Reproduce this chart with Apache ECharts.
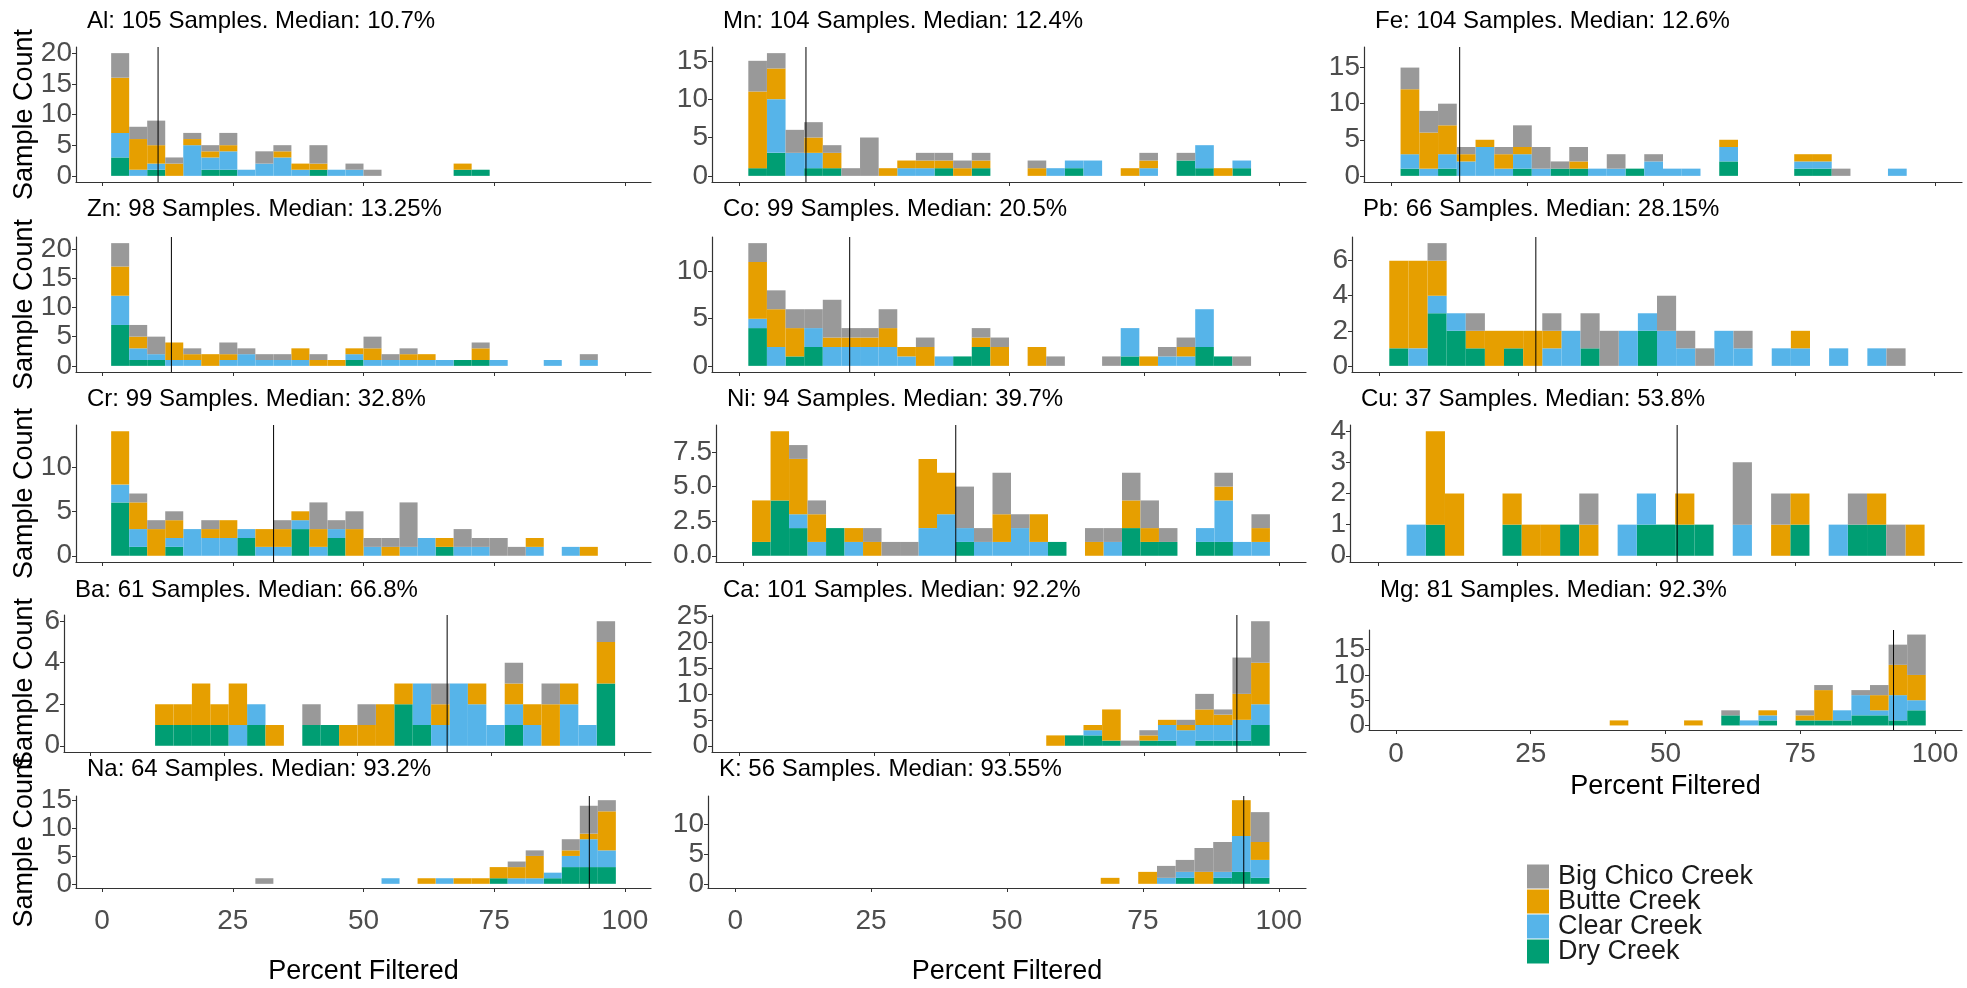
<!DOCTYPE html>
<html><head><meta charset="utf-8">
<script src="https://cdn.jsdelivr.net/npm/echarts@6/dist/echarts.min.js"></script>
<style>html,body{margin:0;padding:0;background:#fff}#c{width:1967px;height:988px}</style>
</head><body><div id="c"></div>
<script>
// Histogram bins: 29 bins over 0..100 (width 100/29), bins k=1..28 are drawn (index k-1)
const binWidth = 100 / 29;
const creeks = ['Big Chico Creek', 'Butte Creek', 'Clear Creek', 'Dry Creek'];
const xTicks = [0, 25, 50, 75, 100];

const elementNames = ['Al','Mn','Fe','Zn','Co','Pb','Cr','Ni','Cu','Ba','Ca','Mg','Na','K'];
const sampleCounts = [105,104,104,98,99,66,99,94,37,61,101,81,64,56];
const medianLabels = ['10.7','12.4','12.6','13.25','20.5','28.15','32.8','39.7','53.8','66.8','92.2','92.3','93.2','93.55'];
const medianValues = [10.7,12.4,12.6,13.25,20.5,28.15,32.8,39.7,53.8,66.8,92.2,92.3,93.2,93.55];
const yTopCounts = [20,16,17,21,13,7,14,9,4,6,24,18,15,14];
const yTickSets = [[0,5,10,15,20],[0,5,10,15],[0,5,10,15],[0,5,10,15,20],[0,5,10],[0,2,4,6],[0,5,10],[0,2.5,5,7.5],[0,1,2,3,4],[0,2,4,6],[0,5,10,15,20,25],[0,5,10,15],[0,5,10,15],[0,5,10]];

// counts per bin (k = 1..28); grey = Big Chico, orange = Butte, blue = Clear, green = Dry
const Al_grey   = [4,2,4,1,1,1,2,0,2,1, 0,3,0,1,1,0,0,0,0,0, 0,0,0,0,0,0,0,0];
const Al_orange = [9,5,3,2,1,1,1,0,0,1, 1,1,0,0,0,0,0,0,0,1, 0,0,0,0,0,0,0,0];
const Al_blue   = [4,1,1,0,5,2,3,1,2,3, 1,0,1,1,0,0,0,0,0,0, 0,0,0,0,0,0,0,0];
const Al_green  = [3,0,1,0,0,1,1,0,0,0, 0,1,0,0,0,0,0,0,0,1, 1,0,0,0,0,0,0,0];

const Mn_grey   = [4,2,3,2,1,1,5,0,0,1, 1,1,1,0,0,1,0,0,0,0, 0,1,0,1,0,0,0,0];
const Mn_orange = [10,4,0,2,2,0,0,1,1,1, 1,1,1,0,0,1,0,0,0,0, 1,1,0,0,0,1,0,0];
const Mn_blue   = [0,7,3,2,0,0,0,0,1,1, 0,0,0,0,0,0,1,1,2,0, 0,1,0,0,3,0,1,0];
const Mn_green  = [1,3,0,1,1,0,0,0,0,0, 1,0,1,0,0,0,0,1,0,0, 0,0,0,2,1,0,1,0];

const Fe_grey   = [3,3,3,1,0,1,3,3,1,2, 0,2,0,1,0,0,0,0,0,0, 0,0,0,1,0,0,0,0];
const Fe_orange = [9,5,4,1,1,2,1,0,0,1, 0,0,0,0,0,0,0,1,0,0, 0,1,1,0,0,0,0,0];
const Fe_blue   = [2,1,2,2,4,1,2,1,0,0, 1,1,0,2,1,1,0,2,0,0, 0,1,1,0,0,0,1,0];
const Fe_green  = [1,0,1,0,0,0,1,0,1,1, 0,0,1,0,0,0,0,2,0,0, 0,1,1,0,0,0,0,0];

const Zn_grey   = [4,2,3,0,1,0,2,1,1,1, 0,1,0,0,2,1,1,0,0,0, 1,0,0,0,0,0,1,0];
const Zn_orange = [5,2,0,3,1,2,1,0,0,0, 2,1,1,1,2,0,1,1,0,0, 2,0,0,0,0,0,0,0];
const Zn_blue   = [5,2,1,1,1,0,1,2,1,1, 1,0,0,1,1,1,1,1,1,0, 0,1,0,0,1,0,1,0];
const Zn_green  = [7,1,1,0,0,0,0,0,0,0, 0,0,0,1,0,0,0,0,0,1, 1,0,0,0,0,0,0,0];

const Co_grey   = [2,2,2,2,4,1,1,2,0,1, 0,0,1,1,0,0,1,0,0,1, 0,0,1,1,0,0,1,0];
const Co_orange = [6,4,3,0,1,1,1,2,1,2, 0,0,1,2,0,2,0,0,0,0, 0,1,0,1,0,0,0,0];
const Co_blue   = [1,2,0,2,2,2,2,2,1,0, 1,0,0,0,0,0,0,0,0,0, 3,0,1,1,4,0,0,0];
const Co_green  = [4,0,1,2,0,0,0,0,0,0, 0,1,2,0,0,0,0,0,0,0, 1,0,0,0,2,1,0,0];

const Pb_grey   = [0,0,1,0,1,0,0,0,1,0, 2,2,0,0,2,1,1,0,1,0, 0,0,0,0,0,0,1,0];
const Pb_orange = [5,5,2,0,1,2,1,2,1,0, 0,0,0,0,0,0,0,0,0,0, 0,1,0,0,0,0,0,0];
const Pb_blue   = [0,1,1,1,0,0,0,0,1,2, 0,0,2,1,2,1,0,2,1,0, 1,1,0,1,0,1,0,0];
const Pb_green  = [1,0,3,2,1,0,1,0,0,0, 1,0,0,2,0,0,0,0,0,0, 0,0,0,0,0,0,0,0];

const Cr_grey   = [0,1,1,1,0,1,0,0,0,1, 0,3,1,2,1,1,5,0,0,2, 1,2,1,0,0,0,0,0];
const Cr_orange = [6,3,3,2,0,1,2,0,2,2, 1,2,0,3,0,1,0,0,1,0, 0,0,0,1,0,0,1,0];
const Cr_blue   = [2,2,0,1,3,2,2,1,1,1, 1,1,1,0,1,0,1,2,0,1, 1,0,0,1,0,1,0,0];
const Cr_green  = [6,1,0,1,0,0,0,2,0,0, 3,0,2,0,0,0,0,0,1,0, 0,0,0,0,0,0,0,0];

const Ni_grey   = [0,0,1,1,0,0,1,1,1,0, 0,3,1,3,1,0,0,0,1,1, 2,2,1,0,0,1,0,1];
const Ni_orange = [3,5,4,2,0,1,1,0,0,5, 3,0,0,2,0,2,0,0,1,0, 2,1,0,0,0,1,0,1];
const Ni_blue   = [0,0,1,1,0,1,0,0,0,2, 3,1,1,1,2,1,0,0,0,1, 0,0,0,0,1,3,1,1];
const Ni_green  = [1,4,2,0,2,0,0,0,0,0, 0,1,0,0,0,0,1,0,0,0, 2,1,1,0,1,1,0,0];

const Cu_grey   = [0,0,0,0,0,0,0,0,0,0, 1,0,0,0,0,0,0,0,2,0, 1,0,0,0,1,0,1,0];
const Cu_orange = [0,0,3,2,0,0,1,1,1,0, 1,0,0,0,0,1,0,0,0,0, 1,1,0,0,0,1,0,1];
const Cu_blue   = [0,1,0,0,0,0,0,0,0,0, 0,0,1,1,0,0,0,0,1,0, 0,0,0,1,0,0,0,0];
const Cu_green  = [0,0,1,0,0,0,1,0,0,1, 0,0,0,1,1,1,1,0,0,0, 0,1,0,0,1,1,0,0];

const Ba_grey   = [0,0,0,0,0,0,0,0,0,0, 0,1,0,0,1,0,0,0,1,0, 0,0,1,0,1,0,0,1];
const Ba_orange = [0,0,0,1,1,2,1,2,0,1, 0,0,0,1,1,2,1,0,1,0, 1,0,1,1,2,1,0,2];
const Ba_blue   = [0,0,0,0,0,0,0,1,1,0, 0,0,0,0,0,0,0,2,1,3, 2,1,1,1,0,2,1,0];
const Ba_green  = [0,0,0,1,1,1,1,0,1,0, 0,1,1,0,0,0,2,1,0,0, 0,0,1,0,0,0,0,3];

const Ca_grey   = [0,0,0,0,0,0,0,0,0,0, 0,0,0,0,0,0,0,0,0,0, 1,1,0,1,3,1,7,8];
const Ca_orange = [0,0,0,0,0,0,0,0,0,0, 0,0,0,0,0,0,2,0,1,6, 0,1,1,1,3,2,5,8];
const Ca_blue   = [0,0,0,0,0,0,0,0,0,0, 0,0,0,0,0,0,0,0,1,0, 0,0,3,3,3,3,4,4];
const Ca_green  = [0,0,0,0,0,0,0,0,0,0, 0,0,0,0,0,0,0,2,2,1, 0,1,1,0,1,1,1,4];

const Mg_grey   = [0,0,0,0,0,0,0,0,0,0, 0,0,0,0,0,0,0,1,0,0, 0,1,1,0,1,2,4,8];
const Mg_orange = [0,0,0,0,0,0,0,0,0,0, 0,1,0,0,0,1,0,0,0,1, 0,1,6,0,0,3,6,5];
const Mg_blue   = [0,0,0,0,0,0,0,0,0,0, 0,0,0,0,0,0,0,0,1,1, 0,0,0,2,4,1,5,2];
const Mg_green  = [0,0,0,0,0,0,0,0,0,0, 0,0,0,0,0,0,0,2,0,1, 0,1,1,1,2,2,1,3];

const Na_grey   = [0,0,0,0,0,0,0,0,1,0, 0,0,0,0,0,0,0,0,0,0, 0,0,1,1,0,2,5,2];
const Na_orange = [0,0,0,0,0,0,0,0,0,0, 0,0,0,0,0,0,0,1,0,1, 1,2,2,4,0,1,1,7];
const Na_blue   = [0,0,0,0,0,0,0,0,0,0, 0,0,0,0,0,1,0,0,1,0, 0,0,1,1,1,2,5,3];
const Na_green  = [0,0,0,0,0,0,0,0,0,0, 0,0,0,0,0,0,0,0,0,0, 0,1,0,0,1,3,3,3];

const K_grey    = [0,0,0,0,0,0,0,0,0,0, 0,0,0,0,0,0,0,0,0,0, 0,0,2,2,4,5,0,5];
const K_orange  = [0,0,0,0,0,0,0,0,0,0, 0,0,0,0,0,0,0,0,0,1, 0,2,0,0,2,0,6,3];
const K_blue    = [0,0,0,0,0,0,0,0,0,0, 0,0,0,0,0,0,0,0,0,0, 0,0,1,1,0,1,6,3];
const K_green   = [0,0,0,0,0,0,0,0,0,0, 0,0,0,0,0,0,0,0,0,0, 0,0,0,1,0,1,2,1];

// order: Big Chico, Butte, Clear, Dry
const panelCounts = [
  [Al_grey,Al_orange,Al_blue,Al_green],[Mn_grey,Mn_orange,Mn_blue,Mn_green],[Fe_grey,Fe_orange,Fe_blue,Fe_green],
  [Zn_grey,Zn_orange,Zn_blue,Zn_green],[Co_grey,Co_orange,Co_blue,Co_green],[Pb_grey,Pb_orange,Pb_blue,Pb_green],
  [Cr_grey,Cr_orange,Cr_blue,Cr_green],[Ni_grey,Ni_orange,Ni_blue,Ni_green],[Cu_grey,Cu_orange,Cu_blue,Cu_green],
  [Ba_grey,Ba_orange,Ba_blue,Ba_green],[Ca_grey,Ca_orange,Ca_blue,Ca_green],[Mg_grey,Mg_orange,Mg_blue,Mg_green],
  [Na_grey,Na_orange,Na_blue,Na_green],[K_grey,K_orange,K_blue,K_green]
];

// ---------- layout & style (not data) ----------
const FONT = '"Liberation Sans", Arial, sans-serif';
const creekColors = ['#999999', '#E69F00', '#56B4E9', '#009E73'];
// [left, top, right, bottom] of each plotting panel, px
const panelBoxes = [
  [76,47,651,182],[712,47,1306,182],[1364,47,1962,182],
  [76,237,651,372],[712,237,1306,372],[1352,237,1962,372],
  [76,425,651,562],[716,425,1306,562],[1350,425,1962,562],
  [64,615,651,752],[712,615,1306,752],[1369,630,1962,730],
  [76,796,651,888],[708,796,1306,888]
];
const titleTops = [9,9,9, 197,197,197, 387,387,387, 578,578,578, 757,757];
// per-panel axis text spacing: [x label margin, x name gap, y name gap]
const axisGaps = {Al:[9,0,38], Zn:[9,0,38], Cr:[9,0,38], Ba:[9,0,26], Na:[19,70,38], K:[19,70,0], Mg:[10,43,0]};
const yNamePanels = ['Al','Zn','Cr','Ba','Na'];
const xLabelPanels = ['Mg','Na','K'];
const TITLE_SIZE = 24, TICK_SIZE = 28, AXIS_TITLE_SIZE = 27, LEGEND_SIZE = 27;

function renderBar(params, api) {
  const k = api.value(0), y0 = api.value(1), y1 = api.value(2);
  const c = k * binWidth;
  const p0 = api.coord([c - binWidth / 2, y1]);
  const p1 = api.coord([c + binWidth / 2, y0]);
  return { type: 'rect', shape: { x: p0[0], y: p0[1], width: p1[0] - p0[0], height: p1[1] - p0[1] },
           style: { fill: api.visual('color') } };
}

const grids = [], xAxes = [], yAxes = [], series = [], titles = [];
elementNames.forEach((el, i) => {
  const [l, t, r, b] = panelBoxes[i];
  const M = yTopCounts[i];
  const showX = xLabelPanels.includes(el);
  const showYName = yNamePanels.includes(el);
  const gaps = axisGaps[el] || [9, 0, 0];
  grids.push({ left: l, top: t, width: r - l, height: b - t, containLabel: false });
  titles.push({ text: el + ': ' + sampleCounts[i] + ' Samples. Median: ' + medianLabels[i] + '%',
    left: l + 11, top: titleTops[i], padding: 0,
    textStyle: { fontFamily: FONT, fontSize: TITLE_SIZE, fontWeight: 'normal', color: '#000' } });
  xAxes.push({ type: 'value', gridIndex: i, min: -5, max: 105,
    axisLine: { show: true, onZero: false, lineStyle: { color: '#333', width: 1.2 } },
    axisTick: { show: true, length: 4, customValues: xTicks, lineStyle: { color: '#333', width: 1 } },
    axisLabel: { show: showX, customValues: xTicks, hideOverlap: false, showMinLabel: true, showMaxLabel: true,
      fontFamily: FONT, fontSize: TICK_SIZE, color: '#4D4D4D', margin: gaps[0] },
    splitLine: { show: false },
    name: showX ? 'Percent Filtered' : '', nameLocation: 'middle', nameGap: gaps[1], nameMoveOverlap: false,
    nameTextStyle: { fontFamily: FONT, fontSize: AXIS_TITLE_SIZE, color: '#000' } });
  const dec = el === 'Ni' ? 1 : 0;
  const ticks = yTickSets[i];
  // labels split over two overlapping y axes so that closely spaced labels are all drawn
  const evenTicks = ticks.filter((v, j) => j % 2 === 0);
  const oddTicks = ticks.filter((v, j) => j % 2 === 1);
  const mainIndex = yAxes.length;
  const labelStyle = { show: true, hideOverlap: false, showMinLabel: true, showMaxLabel: true,
      fontFamily: FONT, fontSize: TICK_SIZE, color: '#4D4D4D', margin: 4,
      formatter: v => Number(v).toFixed(dec) };
  yAxes.push({ type: 'value', gridIndex: i, min: -0.05 * M, max: 1.05 * M, position: 'left',
    axisLine: { show: true, onZero: false, lineStyle: { color: '#333', width: 1.2 } },
    axisTick: { show: true, length: 4, customValues: ticks, lineStyle: { color: '#333', width: 1 } },
    axisLabel: Object.assign({ customValues: evenTicks }, labelStyle),
    splitLine: { show: false },
    name: showYName ? 'Sample Count' : '', nameLocation: 'middle', nameRotate: 90, nameGap: gaps[2],
    nameMoveOverlap: false,
    nameTextStyle: { fontFamily: FONT, fontSize: AXIS_TITLE_SIZE, color: '#000' } });
  if (oddTicks.length) {
    yAxes.push({ type: 'value', gridIndex: i, min: -0.05 * M, max: 1.05 * M, position: 'left', offset: 0,
      axisLine: { show: false, onZero: false }, axisTick: { show: true, length: 4, customValues: ticks, lineStyle: { color: '#333', width: 1 } },
      axisLabel: Object.assign({ customValues: oddTicks }, labelStyle),
      splitLine: { show: false } });
  }
  // stacked bars: Dry (bottom), Clear, Butte, Big Chico (top)
  const counts = panelCounts[i];
  const base = new Array(counts[0].length).fill(0);
  [3, 2, 1, 0].forEach(ci => {
    const data = [];
    counts[ci].forEach((v, j) => {
      if (v > 0) data.push([j + 1, base[j], base[j] + v]);
      base[j] += v;
    });
    series.push({ name: creeks[ci], type: 'custom', xAxisIndex: i, yAxisIndex: mainIndex,
      itemStyle: { color: creekColors[ci] }, renderItem: renderBar, data: data,
      encode: { x: 0, y: [1, 2] }, silent: true, z: 2 });
  });
  series.push({ name: 'median-' + el, type: 'line', xAxisIndex: i, yAxisIndex: mainIndex,
    data: [[medianValues[i], -0.05 * M], [medianValues[i], 1.05 * M]], symbol: 'none',
    lineStyle: { color: '#000', width: 1 }, silent: true, z: 5 });
});

const chart = echarts.init(document.getElementById('c'), null, { renderer: 'canvas' });
chart.setOption({
  animation: false,
  backgroundColor: '#fff',
  title: titles,
  grid: grids, xAxis: xAxes, yAxis: yAxes, series: series,
  legend: { data: creeks, orient: 'vertical', left: 1522, top: 858, itemWidth: 22, itemHeight: 24, itemGap: -2,
    icon: 'rect', selectedMode: false,
    textStyle: { fontFamily: FONT, fontSize: LEGEND_SIZE, lineHeight: 22, color: '#1a1a1a', padding: [0, 0, 0, 4] } }
});
</script></bo dy></html>
